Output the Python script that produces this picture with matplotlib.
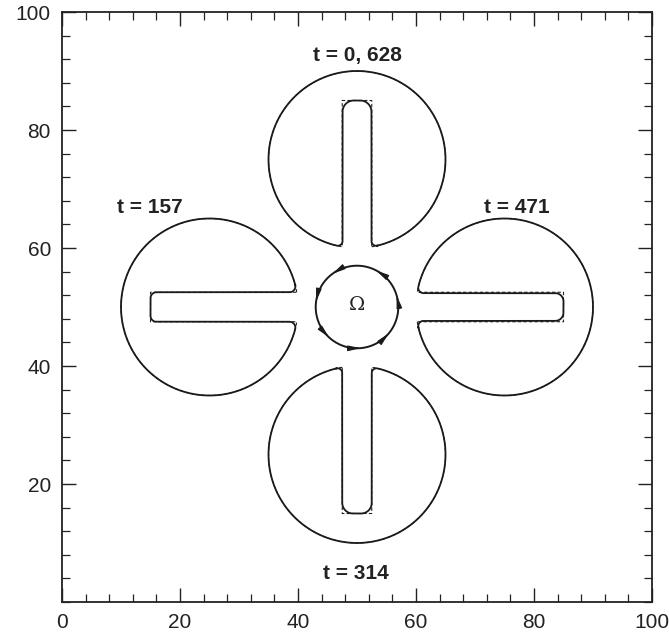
import numpy as np
import matplotlib
matplotlib.use("Agg")
import matplotlib.pyplot as plt
from matplotlib.ticker import MultipleLocator

plt.rcParams['font.family'] = ['Liberation Sans', 'DejaVu Sans']

# Zalesak slotted disk rotating about the domain centre
times = [0, 157, 314, 471]
period = 628
labels = ["t = 0, 628", "t = 157", "t = 314", "t = 471"]
label_xy = [(50, 92.6), (14.9, 66.9), (49.8, 4.9), (77.1, 66.9)]

centre = (50.0, 50.0)
orbit_radius = 25.0
disk_radius = 15.0
slot_half_width = 2.5
slot_top = 10.0          # slot end measured from disk centre

# computed interface: rounded slot end / mouth, slight width change
num_half_width = [2.45, 2.5, 2.5, 2.35]
num_end_round = [1.9, 1.0, 1.8, 1.4]
num_mouth_round = [0.8, 1.0, 0.8, 0.9]

omega_radius = 7.0
arrow_angles = [12, 58, 122, 168, 223, 271, 316]


def outline(R, w, top, rt, rm):
    """Closed outline of a slotted disk centred at the origin, slot opening downward."""
    xs, ys = [], []
    cx = w + rm
    cy = -np.sqrt((R - rm) ** 2 - cx ** 2)
    phi = np.arctan2(cy, cx)
    phi_l = np.arctan2(cy, -cx) + 2 * np.pi
    a = np.linspace(phi, phi_l, 600)
    xs += list(R * np.cos(a)); ys += list(R * np.sin(a))
    # left mouth fillet
    a = np.linspace(phi_l, 2 * np.pi, 30)
    xs += list(-cx + rm * np.cos(a)); ys += list(cy + rm * np.sin(a))
    # left wall, top corners, right wall
    a = np.linspace(np.pi, np.pi / 2, 30)
    xs += list(-w + rt + rt * np.cos(a)); ys += list(top - rt + rt * np.sin(a))
    a = np.linspace(np.pi / 2, 0, 30)
    xs += list(w - rt + rt * np.cos(a)); ys += list(top - rt + rt * np.sin(a))
    # right mouth fillet
    a = np.linspace(np.pi, phi + 2 * np.pi, 30)
    xs += list(cx + rm * np.cos(a)); ys += list(cy + rm * np.sin(a))
    xs.append(xs[0]); ys.append(ys[0])
    return np.array(xs), np.array(ys)


def place(x, y, ang):
    y = y + orbit_radius
    c, s = np.cos(ang), np.sin(ang)
    return centre[0] + c * x - s * y, centre[1] + s * x + c * y


fig = plt.figure(figsize=(6.69, 6.32), dpi=100)
ax = fig.add_axes([62 / 669, 1 - 602 / 632, 590 / 669, 590 / 632])

for i, t in enumerate(times):
    ang = 2 * np.pi * t / period
    ex, ey = outline(disk_radius, slot_half_width, slot_top, 0.0, 0.0)
    ax.plot(*place(ex, ey, ang), color='#222222', lw=0.8, ls=(0, (3, 2)))
    nx, ny = outline(disk_radius, num_half_width[i], slot_top,
                     num_end_round[i], num_mouth_round[i])
    ax.plot(*place(nx, ny, ang), color='#1a1a1a', lw=1.3)
    ax.text(*label_xy[i], labels[i], ha='center', va='center',
            fontsize=15, fontweight='bold', color='#222222')

# rotation indicator
th = np.linspace(0, 2 * np.pi, 400)
ax.plot(centre[0] + omega_radius * np.cos(th), centre[1] + omega_radius * np.sin(th),
        color='#1a1a1a', lw=1.4)
for deg in arrow_angles:
    a0 = np.radians(deg) - 0.08
    a1 = np.radians(deg) + 0.08
    ax.annotate('', xy=(centre[0] + omega_radius * np.cos(a1), centre[1] + omega_radius * np.sin(a1)),
                xytext=(centre[0] + omega_radius * np.cos(a0), centre[1] + omega_radius * np.sin(a0)),
                arrowprops=dict(arrowstyle='-|>,head_length=0.75,head_width=0.16',
                                color='#1a1a1a', lw=0.9,
                                mutation_scale=10, shrinkA=0, shrinkB=0))
ax.text(50, 50.3, 'Ω', family='DejaVu Serif', fontsize=14, ha='center', va='center',
        color='#222222')

ax.set_xlim(0, 100)
ax.set_ylim(0, 100)
ax.set_xticks([0, 20, 40, 60, 80, 100])
ax.set_yticks([20, 40, 60, 80, 100])
ax.xaxis.set_minor_locator(MultipleLocator(4))
ax.yaxis.set_minor_locator(MultipleLocator(4))
ax.tick_params(which='both', direction='in', top=True, right=True, color='#222222',
               labelsize=15, labelcolor='#222222')
ax.tick_params(which='major', length=10, width=1.0, pad=8)
ax.tick_params(which='minor', length=5.5, width=0.9)
for sp in ax.spines.values():
    sp.set_linewidth(1.3)
    sp.set_color('#222222')

fig.savefig('out.png', dpi=100)
